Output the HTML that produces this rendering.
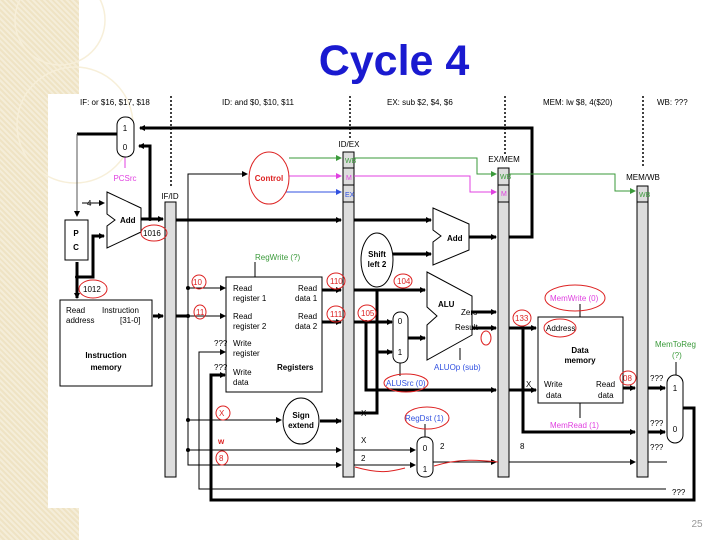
<!DOCTYPE html>
<html><head><style>
body{margin:0;width:720px;height:540px;overflow:hidden;background:#fff;position:relative;font-family:"Liberation Sans",sans-serif}
.b{position:absolute;background:#efe3c4;background-image:repeating-linear-gradient(45deg,rgba(255,255,255,.35) 0 2px,transparent 2px 4px)}
svg{position:absolute;left:0;top:0}
</style></head><body>
<div class="b" style="left:0;top:0;width:79px;height:540px"></div>
<div style="position:absolute;left:48px;top:94px;width:660px;height:414px;background:#fff"></div>
<svg width="720" height="540" viewBox="0 0 720 540" font-family="Liberation Sans, sans-serif">
<defs>
<marker id="a" markerWidth="6" markerHeight="6" refX="5" refY="3" orient="auto" markerUnits="userSpaceOnUse"><path d="M0,0L6,3L0,6z" fill="#000"/></marker>
<marker id="g" markerWidth="6" markerHeight="6" refX="5" refY="3" orient="auto" markerUnits="userSpaceOnUse"><path d="M0,0L6,3L0,6z" fill="#3a9a3a"/></marker>
<marker id="m" markerWidth="6" markerHeight="6" refX="5" refY="3" orient="auto" markerUnits="userSpaceOnUse"><path d="M0,0L6,3L0,6z" fill="#e040e0"/></marker>
<marker id="bl" markerWidth="6" markerHeight="6" refX="5" refY="3" orient="auto" markerUnits="userSpaceOnUse"><path d="M0,0L6,3L0,6z" fill="#3050e0"/></marker>
</defs>
<g fill="none" stroke="#f7efd9" stroke-width="1.5"><circle cx="60" cy="20" r="45"/><circle cx="75" cy="125" r="58"/></g>
<text x="394" y="75" font-size="43" font-weight="bold" fill="#1a1ad0" text-anchor="middle">Cycle 4</text>
<g font-size="8" fill="#000">
<text x="80" y="105">IF: or $16, $17, $18</text>
<text x="222" y="105">ID: and $0, $10, $11</text>
<text x="387" y="105">EX: sub $2, $4, $6</text>
<text x="543" y="105">MEM: lw $8, 4($20)</text>
<text x="657" y="105">WB: ???</text>
</g>
<g stroke="#000" stroke-width="1.5" stroke-dasharray="2,2">
<line x1="171" y1="96" x2="171" y2="188"/><line x1="350" y1="96" x2="350" y2="140"/>
<line x1="505" y1="96" x2="505" y2="155"/><line x1="643" y1="96" x2="643" y2="168"/>
</g>
<g fill="#ddd" stroke="#000" stroke-width="1">
<rect x="165" y="202" width="11" height="275"/>
<rect x="343" y="152" width="11" height="325"/>
<rect x="498" y="168" width="11" height="309"/>
<rect x="637" y="186" width="11" height="291"/>
<line x1="343" y1="168" x2="354" y2="168"/><line x1="343" y1="185" x2="354" y2="185"/><line x1="343" y1="202" x2="354" y2="202"/>
<line x1="498" y1="185" x2="509" y2="185"/><line x1="498" y1="202" x2="509" y2="202"/>
<line x1="637" y1="202" x2="648" y2="202"/>
</g>
<g font-size="8">
<text x="170" y="199" text-anchor="middle">IF/ID</text>
<text x="349" y="147" text-anchor="middle">ID/EX</text>
<text x="504" y="162" text-anchor="middle">EX/MEM</text>
<text x="643" y="180" text-anchor="middle">MEM/WB</text>
<text x="345" y="163" fill="#3a9a3a" font-size="7">WB</text>
<text x="346" y="180" fill="#e040e0" font-size="7">M</text>
<text x="345" y="197" fill="#3050e0" font-size="7">EX</text>
<text x="500" y="179" fill="#3a9a3a" font-size="7">WB</text>
<text x="501" y="196" fill="#e040e0" font-size="7">M</text>
<text x="639" y="197" fill="#3a9a3a" font-size="7">WB</text>
</g>
<g stroke="#000" stroke-width="3" fill="none">
<polyline points="509,237 532,237 532,128 140,128" marker-end="url(#a)"/>
<polyline points="150,219 150,146 139,146" marker-end="url(#a)"/>
<line x1="141" y1="219" x2="163" y2="219" marker-end="url(#a)"/>
<polyline points="77,277 93,277 93,236 104,236" marker-end="url(#a)"/>
<line x1="77" y1="262" x2="77" y2="298" marker-end="url(#a)"/>
<line x1="153" y1="316" x2="163" y2="316" marker-end="url(#a)"/>
<line x1="176" y1="316" x2="188" y2="316"/>
<line x1="117" y1="134" x2="77" y2="134"/>
<line x1="176" y1="220" x2="341" y2="220" marker-end="url(#a)"/>
<line x1="354" y1="220" x2="431" y2="220" marker-end="url(#a)"/>
<line x1="393" y1="254" x2="431" y2="254" marker-end="url(#a)"/>
<line x1="469" y1="237" x2="496" y2="237" marker-end="url(#a)"/>
<line x1="322" y1="290" x2="341" y2="290" marker-end="url(#a)"/>
<line x1="322" y1="322" x2="341" y2="322" marker-end="url(#a)"/>
<line x1="354" y1="290" x2="425" y2="290" marker-end="url(#a)"/>
<line x1="354" y1="322" x2="392" y2="322" marker-end="url(#a)"/>
<polyline points="366,322 366,390 496,390" marker-end="url(#a)"/>
<polyline points="354,413 377,413 377,352 392,352" marker-end="url(#a)"/>
<line x1="377" y1="289" x2="377" y2="352"/>
<line x1="407" y1="338" x2="425" y2="338" marker-end="url(#a)"/>
<line x1="320" y1="421" x2="341" y2="421" marker-end="url(#a)"/>
<line x1="472" y1="312" x2="496" y2="312" marker-end="url(#a)"/>
<line x1="472" y1="328" x2="496" y2="328" marker-end="url(#a)"/>
<line x1="509" y1="328" x2="536" y2="328" marker-end="url(#a)"/>
<polyline points="523,328 523,432 635,432" marker-end="url(#a)"/>
<line x1="509" y1="390" x2="536" y2="390" marker-end="url(#a)"/>
<line x1="623" y1="388" x2="635" y2="388" marker-end="url(#a)"/>
<line x1="648" y1="388" x2="665" y2="388" marker-end="url(#a)"/>
<line x1="648" y1="432" x2="665" y2="432" marker-end="url(#a)"/>
<polyline points="683,408 694,408 694,500 211,500 211,375 225,375" marker-end="url(#a)"/>
</g>
<g stroke="#000" stroke-width="1" fill="none">
<polyline points="77,134 77,216" stroke="#555" marker-end="url(#a)"/>
<line x1="82" y1="203" x2="104" y2="203" marker-end="url(#a)"/>
<polyline points="188,316 188,465 341,465" marker-end="url(#a)"/>
<polyline points="188,316 188,174 247,174" marker-end="url(#a)"/>
<line x1="188" y1="288" x2="225" y2="288" marker-end="url(#a)"/>
<line x1="188" y1="316" x2="225" y2="316" marker-end="url(#a)"/>
<line x1="188" y1="420" x2="281" y2="420" marker-end="url(#a)"/>
<line x1="188" y1="450" x2="341" y2="450" marker-end="url(#a)"/>
<line x1="354" y1="450" x2="415" y2="450" marker-end="url(#a)"/>
<line x1="354" y1="465" x2="415" y2="465" marker-end="url(#a)"/>
<line x1="433" y1="462" x2="496" y2="462" marker-end="url(#a)"/>
<line x1="509" y1="462" x2="635" y2="462" marker-end="url(#a)"/>
<line x1="648" y1="462" x2="667" y2="462"/>
<polyline points="666,489 199,489 199,352 225,352" marker-end="url(#a)"/>
<line x1="460" y1="348" x2="460" y2="360"/>
<line x1="400" y1="363" x2="400" y2="376"/>
<line x1="425" y1="424" x2="425" y2="437"/>
<line x1="255" y1="262" x2="255" y2="277"/>
<line x1="580" y1="304" x2="580" y2="317"/>
<line x1="580" y1="403" x2="580" y2="418"/>
<line x1="676" y1="362" x2="676" y2="375"/>
<line x1="125" y1="157" x2="125" y2="168" stroke="#e040e0"/>
</g>
<g fill="#000"><circle cx="150" cy="219" r="2"/><circle cx="77" cy="277" r="2"/><circle cx="188" cy="288" r="2"/><circle cx="188" cy="316" r="2"/><circle cx="188" cy="420" r="2"/><circle cx="188" cy="450" r="2"/><circle cx="366" cy="322" r="2"/><circle cx="523" cy="328" r="2"/></g>
<polyline points="289,158 341,158" stroke="#3a9a3a" fill="none" marker-end="url(#g)"/>
<polyline points="354,158 477,158 477,174 496,174" stroke="#3a9a3a" fill="none" marker-end="url(#g)"/>
<polyline points="509,174 615,174 615,191 635,191" stroke="#3a9a3a" fill="none" marker-end="url(#g)"/>
<polyline points="289,176 341,176" stroke="#e040e0" fill="none" marker-end="url(#m)"/>
<polyline points="354,176 470,176 470,192 496,192" stroke="#e040e0" fill="none" marker-end="url(#m)"/>
<polyline points="280,192 341,192" stroke="#3050e0" fill="none" marker-end="url(#bl)"/>
<g fill="#fff" stroke="#000" stroke-width="1">
<rect x="117" y="117" width="17" height="40" rx="8"/>
<rect x="65" y="220" width="23" height="40"/>
<polygon points="107,192 141,208 141,232 107,248 107,226 115,220 107,214"/>
<rect x="60" y="300" width="92" height="86"/>
<rect x="226" y="277" width="96" height="115"/>
<ellipse cx="377" cy="260" rx="16" ry="27"/>
<polygon points="433,208 469,224 469,250 433,265 433,242 441,236 433,230"/>
<polygon points="427,272 472,296 472,335 427,360 427,325 437,316 427,307"/>
<rect x="393" y="312" width="15" height="51" rx="7"/>
<ellipse cx="301" cy="421" rx="18" ry="23"/>
<rect x="417" y="437" width="16" height="40" rx="7"/>
<rect x="538" y="317" width="85" height="86"/>
<rect x="667" y="375" width="16" height="68" rx="8"/>
</g>
<ellipse cx="269" cy="178" rx="20" ry="26" fill="#fff" stroke="#d22" stroke-width="1"/>
<g font-size="8" fill="#000">
<text x="125" y="131" text-anchor="middle">1</text><text x="125" y="150" text-anchor="middle">0</text>
<text x="125" y="181" fill="#e040e0" text-anchor="middle">PCSrc</text>
<text x="76" y="236" text-anchor="middle" font-weight="bold">P</text><text x="76" y="250" text-anchor="middle" font-weight="bold">C</text>
<text x="87" y="206">4</text>
<text x="120" y="223" font-weight="bold">Add</text>
<text x="447" y="241" font-weight="bold">Add</text>
<text x="269" y="181" text-anchor="middle" fill="#d22" font-weight="bold">Control</text>
<text x="66" y="313">Read</text><text x="66" y="323">address</text>
<text x="102" y="313">Instruction</text><text x="120" y="323">[31-0]</text>
<text x="106" y="358" text-anchor="middle" font-weight="bold">Instruction</text><text x="106" y="370" text-anchor="middle" font-weight="bold">memory</text>
<text x="255" y="260" fill="#3a9a3a">RegWrite (?)</text>
<text x="233" y="291">Read</text><text x="233" y="301">register 1</text>
<text x="233" y="319">Read</text><text x="233" y="329">register 2</text>
<text x="233" y="346">Write</text><text x="233" y="356">register</text>
<text x="233" y="375">Write</text><text x="233" y="385">data</text>
<text x="298" y="291">Read</text><text x="295" y="301">data 1</text>
<text x="298" y="319">Read</text><text x="295" y="329">data 2</text>
<text x="277" y="370" font-weight="bold">Registers</text>
<text x="377" y="257" text-anchor="middle" font-weight="bold">Shift</text><text x="377" y="267" text-anchor="middle" font-weight="bold">left 2</text>
<text x="438" y="307" font-weight="bold">ALU</text>
<text x="461" y="315">Zero</text><text x="455" y="330">Result</text>
<text x="434" y="370" fill="#3050e0">ALUOp (sub)</text>
<text x="386" y="386" fill="#3050e0">ALUSrc (0)</text>
<text x="400" y="324" text-anchor="middle">0</text><text x="400" y="355" text-anchor="middle">1</text>
<text x="301" y="418" text-anchor="middle" font-weight="bold">Sign</text><text x="301" y="428" text-anchor="middle" font-weight="bold">extend</text>
<text x="405" y="421" fill="#3050e0">RegDst (1)</text>
<text x="425" y="451" text-anchor="middle">0</text><text x="425" y="472" text-anchor="middle">1</text>
<text x="440" y="449">2</text><text x="520" y="449">8</text>
<text x="361" y="416">X</text><text x="361" y="443">X</text><text x="361" y="461">2</text>
<text x="214" y="346">???</text><text x="214" y="370">???</text>
<text x="546" y="331">Address</text>
<text x="580" y="353" text-anchor="middle" font-weight="bold">Data</text><text x="580" y="363" text-anchor="middle" font-weight="bold">memory</text>
<text x="544" y="387">Write</text><text x="546" y="398">data</text>
<text x="596" y="387">Read</text><text x="598" y="398">data</text>
<text x="526" y="387">X</text>
<text x="550" y="428" fill="#e040e0">MemRead (1)</text>
<text x="550" y="301" fill="#e040e0">MemWrite (0)</text>
<text x="655" y="347" fill="#3a9a3a">MemToReg</text><text x="672" y="358" fill="#3a9a3a">(?)</text>
<text x="675" y="391" text-anchor="middle">1</text><text x="675" y="432" text-anchor="middle">0</text>
<text x="650" y="381">???</text><text x="650" y="426">???</text><text x="650" y="450">???</text><text x="672" y="495">???</text>
</g>
<g fill="none" stroke="#d22" stroke-width="1">
<ellipse cx="154" cy="233" rx="13" ry="8"/><ellipse cx="93" cy="289" rx="14" ry="9"/>
<ellipse cx="199" cy="282" rx="7" ry="7"/><ellipse cx="200" cy="312" rx="6" ry="7"/>
<ellipse cx="336" cy="281" rx="9" ry="8"/><ellipse cx="336" cy="314" rx="9" ry="8"/>
<ellipse cx="367" cy="313" rx="9" ry="8"/><ellipse cx="403" cy="281" rx="9" ry="7"/>
<ellipse cx="522" cy="318" rx="9" ry="8"/><ellipse cx="628" cy="378" rx="8" ry="7"/>
<ellipse cx="406" cy="383" rx="22" ry="9"/><ellipse cx="427" cy="418" rx="22" ry="11"/>
<ellipse cx="575" cy="298" rx="30" ry="13"/><ellipse cx="560" cy="328" rx="16" ry="9"/>
<ellipse cx="223" cy="413" rx="7" ry="7"/><ellipse cx="222" cy="458" rx="6" ry="7"/>
<ellipse cx="486" cy="338" rx="5" ry="7"/>
<path d="M355,467 C380,474 390,472 405,468 M434,466 C460,458 480,460 498,462"/>
</g>
<g font-size="8" fill="#d22"><text x="193" y="285">10</text><text x="196" y="315">11</text><text x="330" y="284">110</text><text x="330" y="317">111</text><text x="361" y="316">105</text><text x="397" y="284">104</text><text x="515" y="321">133</text><text x="623" y="381">08</text><text x="143" y="236" fill="#000">1016</text><text x="83" y="292" fill="#000">1012</text><text x="219" y="416">X</text><text x="218" y="444" font-weight="bold">w</text><text x="219" y="461">8</text></g>
<text x="697" y="527" font-size="10" fill="#999" text-anchor="middle">25</text>
</svg>
</body></html>
